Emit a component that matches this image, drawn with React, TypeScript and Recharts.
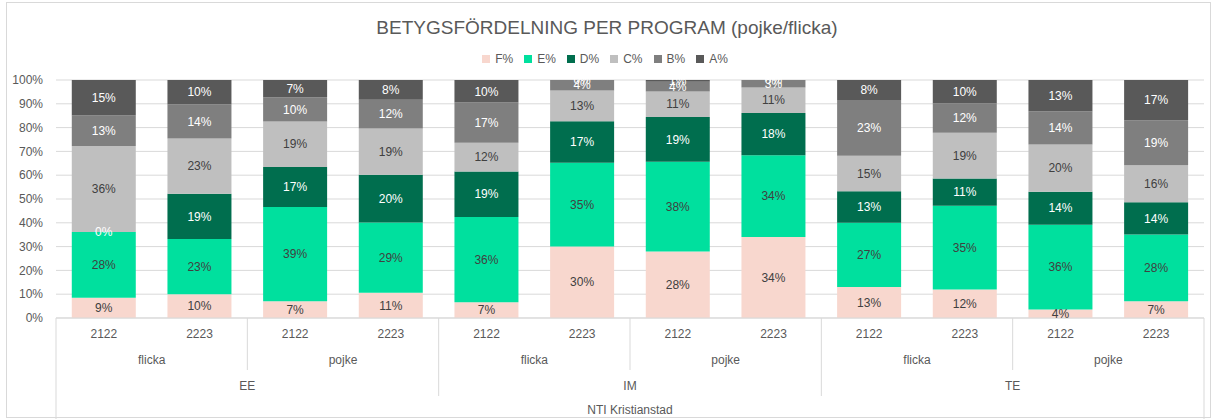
import React from 'react';
import { BarChart, Bar, XAxis, YAxis, CartesianGrid, Legend, LabelList } from 'recharts';

// category levels
const years = ['2122', '2223', '2122', '2223', '2122', '2223', '2122', '2223', '2122', '2223', '2122', '2223'];
const genders = ['flicka', 'flicka', 'pojke', 'pojke', 'flicka', 'flicka', 'pojke', 'pojke', 'flicka', 'flicka', 'pojke', 'pojke'];
const programs = ['EE', 'EE', 'EE', 'EE', 'IM', 'IM', 'IM', 'IM', 'TE', 'TE', 'TE', 'TE'];
const school = 'NTI Kristianstad';

// grade shares (%)
const F = [8.5, 10, 7, 10.6, 6.6, 30, 28, 34, 13, 12, 3.6, 7];
const E = [27.6, 23.2, 39.4, 29.4, 35.8, 35, 37.8, 34.4, 26.9, 35.2, 35.6, 28.1];
const D = [0, 19, 16.8, 20, 19.2, 17.4, 18.8, 17.7, 13.3, 11.4, 13.8, 13.6];
const C = [36.2, 23.2, 19, 19.4, 12, 12.9, 10.8, 10.8, 14.8, 19.2, 19.9, 15.5];
const B = [12.8, 14.4, 10.2, 12, 16.9, 4.4, 4.1, 3.1, 23.4, 12.4, 14, 19];
const A = [14.9, 10.2, 7.2, 8.3, 9.5, 0, 0.7, 0, 8.4, 9.8, 13.1, 16.9];

const yTicks = [0, 0.1, 0.2, 0.3, 0.4, 0.5, 0.6, 0.7, 0.8, 0.9, 1];

const series = [
  { key: 'F', name: 'F%', color: '#F8D7CE', text: '#404040' },
  { key: 'E', name: 'E%', color: '#00E09E', text: '#404040' },
  { key: 'D', name: 'D%', color: '#006E4E', text: '#FFFFFF' },
  { key: 'C', name: 'C%', color: '#BFBFBF', text: '#404040' },
  { key: 'B', name: 'B%', color: '#7F7F7F', text: '#FFFFFF' },
  { key: 'A', name: 'A%', color: '#595959', text: '#FFFFFF' },
];

const data: any[] = years.map((y, i) => ({
  id: i,
  year: y,
  gender: genders[i],
  program: programs[i],
  F: F[i], E: E[i], D: D[i], C: C[i], B: B[i], A: A[i],
}));

const FONT = '"Liberation Sans", Arial, sans-serif';
const GREY = '#595959';
const LINE = '#D9D9D9';

const XTick = (props: any) => {
  const { x, y, payload } = props;
  const i = payload.value as number;
  const half = payload.offset as number;
  const left = x - half;
  const n = data.length;
  const parts: any[] = [];
  parts.push(
    <text key="yr" x={x} y={y + 20} textAnchor="middle" fill={GREY} fontSize={12}>{data[i].year}</text>
  );
  // separators at the left edge of each gender group
  if (i % 2 === 0) {
    let len = 52;
    if (i % 4 === 0) len = 78;
    if (i === 0) len = 101;
    parts.push(<line key="sep" x1={left} x2={left} y1={y} y2={y + len} stroke={LINE} />);
  }
  if (i === n - 1) {
    parts.push(<line key="end" x1={x + half} x2={x + half} y1={y} y2={y + 101} stroke={LINE} />);
  }
  if (i % 2 === 1) {
    parts.push(
      <text key="g" x={left} y={y + 46} textAnchor="middle" fill={GREY} fontSize={12}>{data[i].gender}</text>
    );
  }
  if (i % 4 === 2) {
    parts.push(
      <text key="p" x={left} y={y + 72} textAnchor="middle" fill={GREY} fontSize={12}>{data[i].program}</text>
    );
  }
  if (i === n / 2) {
    parts.push(
      <text key="s" x={left} y={y + 96} textAnchor="middle" fill={GREY} fontSize={12}>{school}</text>
    );
  }
  return <g>{parts}</g>;
};

// segment label; zero-valued segments above this one get their label at this segment's top
const SegLabel = (k: number) => (props: any) => {
  const { x, y, width, height, value, index } = props;
  if (value == null) return null;
  const cx = Number(x) + Number(width) / 2;
  const out: any[] = [
    <text key="v" x={cx} y={Number(y) + Number(height) / 2} dy="0.35em" textAnchor="middle" fill={series[k].text} fontSize={12}>
      {`${Math.round(Number(value))}%`}
    </text>,
  ];
  const row = data[index];
  for (let j = k + 1; j < series.length; j++) {
    if (!row || row[series[j].key] !== 0) break;
    out.push(
      <text key={`z${j}`} x={cx} y={Number(y)} dy="0.35em" textAnchor="middle" fill={series[j].text} fontSize={12}>
        0%
      </text>
    );
  }
  return <g>{out}</g>;
};

const LegendContent = (props: any) => {
  const items = [...(props.payload || [])].sort(
    (a: any, b: any) =>
      series.findIndex((s) => s.key === a.dataKey) - series.findIndex((s) => s.key === b.dataKey)
  );
  return (
    <div style={{ display: 'flex', justifyContent: 'center', gap: 11, fontSize: 12, color: GREY }}>
      {items.map((it: any) => (
        <span key={it.value} style={{ display: 'inline-flex', alignItems: 'center' }}>
          <span style={{ width: 8, height: 8, background: it.color, marginRight: 5, display: 'inline-block' }} />
          {it.value}
        </span>
      ))}
    </div>
  );
};

export default function App() {
  return (
    <div style={{ position: 'absolute', left: 0, top: 0, width: 1214, height: 419, background: '#fff', fontFamily: FONT }}>
      <div style={{ position: 'absolute', left: 6, top: 2, width: 1203, height: 414, border: `1px solid ${LINE}` }} />
      <div style={{ position: 'absolute', left: 0, top: 17, width: 1214, textAlign: 'center', fontSize: 19, color: GREY }}>
        BETYGSFÖRDELNING PER PROGRAM (pojke/flicka)
      </div>
      <div style={{ position: 'absolute', left: 0, top: 0 }}>
        <BarChart
          width={1214}
          height={419}
          data={data}
          stackOffset="expand"
          barCategoryGap="16.5%"
          margin={{ top: 66, right: 10, bottom: 0, left: 6 }}
          style={{ fontFamily: FONT }}
        >
          <CartesianGrid vertical={false} stroke={LINE} />
          <YAxis
            width={50}
            domain={[0, 1]}
            ticks={yTicks}
            tickFormatter={(v: number) => `${Math.round(v * 100)}%`}
            axisLine={false}
            tickLine={false}
            tickMargin={7}
            tick={{ fill: GREY, fontSize: 12 }}
          />
          <XAxis
            dataKey="id"
            height={101}
            interval={0}
            tickSize={0}
            tickMargin={0}
            tickLine={false}
            axisLine={{ stroke: LINE }}
            tick={<XTick />}
          />
          <Legend
            verticalAlign="top"
            align="center"
            height={14}
            wrapperStyle={{ top: 52 }}
            content={<LegendContent />}
          />
          {series.map((s, k) => (
            <Bar key={s.key} dataKey={s.key} name={s.name} stackId="g" fill={s.color} isAnimationActive={false}>
              <LabelList dataKey={s.key} content={SegLabel(k)} />
            </Bar>
          ))}
        </BarChart>
      </div>
    </div>
  );
}
